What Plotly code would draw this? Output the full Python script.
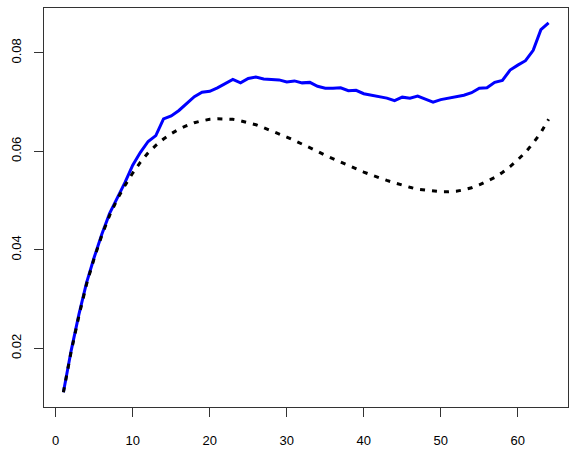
import plotly.graph_objects as go

# x positions 1..64
steps = list(range(1, 65))

observed = [
    0.0111, 0.0195, 0.0268, 0.0333, 0.0385, 0.0432, 0.0474, 0.0505, 0.0537, 0.0572,
    0.0598, 0.0620, 0.0632, 0.0666, 0.0672, 0.0683, 0.0697, 0.0711, 0.0720, 0.0722,
    0.0729, 0.0737, 0.0746, 0.0739, 0.0748, 0.0751, 0.0747, 0.0746, 0.0745, 0.0741,
    0.0743, 0.0739, 0.0740, 0.0732, 0.0728, 0.0728, 0.0729, 0.0723, 0.0724, 0.0717,
    0.0714, 0.0711, 0.0708, 0.0703, 0.0710, 0.0708, 0.0712, 0.0706, 0.0700, 0.0705,
    0.0708, 0.0712, 0.0714, 0.0719, 0.0728, 0.0729, 0.0740, 0.0744, 0.0765, 0.0775,
    0.0784, 0.0805, 0.0847, 0.0861,
]

fitted = [
    0.0111, 0.0193, 0.0265, 0.0330, 0.0383, 0.0430, 0.0470, 0.0503, 0.0531, 0.0556,
    0.0578, 0.0597, 0.0612, 0.0625, 0.0636, 0.0645, 0.0652, 0.0658, 0.0662, 0.0665,
    0.0666, 0.0666, 0.0665, 0.0662, 0.0658, 0.0654, 0.0648, 0.0642, 0.0636, 0.0629,
    0.0622, 0.0615, 0.0607, 0.0600, 0.0592, 0.0585, 0.0578, 0.0571, 0.0564, 0.0558,
    0.0552, 0.0546, 0.0541, 0.0536, 0.0531, 0.0527, 0.0523, 0.0521, 0.0519, 0.0518,
    0.0518, 0.0519, 0.0522, 0.0526, 0.0532, 0.0539, 0.0547, 0.0557, 0.0569, 0.0583,
    0.0598, 0.0617, 0.0638, 0.0665,
]

x_ticks = [0, 10, 20, 30, 40, 50, 60]
y_ticks = [0.02, 0.04, 0.06, 0.08]

fig = go.Figure()

fig.add_trace(go.Scatter(
    x=steps, y=observed, mode='lines',
    line=dict(color='#0000FF', width=3),
    showlegend=False, hoverinfo='skip'
))

fig.add_trace(go.Scatter(
    x=steps, y=fitted, mode='lines',
    line=dict(color='black', width=3, dash='5px,7px'),
    showlegend=False, hoverinfo='skip'
))

axis_style = dict(
    showgrid=False, zeroline=False, automargin=False,
    showline=True, linecolor='#333333', linewidth=1, mirror=True,
    ticks='outside', ticklen=9, tickcolor='#333333', tickwidth=1,
    tickfont=dict(family='Liberation Sans, Arial', size=13, color='black'),
)

fig.update_xaxes(range=[-1.52, 66.52], tickvals=x_ticks,
                 ticktext=[str(v) for v in x_ticks],
                 ticklabelstandoff=12, **axis_style)
fig.update_yaxes(range=[0.0081, 0.0891], tickvals=y_ticks,
                 ticktext=[f"{v:.2f}" for v in y_ticks], tickangle=-90,
                 ticklabelstandoff=8, **axis_style)

fig.update_layout(
    width=576, height=449,
    margin=dict(l=44, r=8, t=8, b=42),
    paper_bgcolor='white', plot_bgcolor='white',
)

# drop the page's default body margin so the figure sits at 0,0
fig.write_html("out.html", config={'displayModeBar': False},
               post_script="document.body.style.margin='0';")
